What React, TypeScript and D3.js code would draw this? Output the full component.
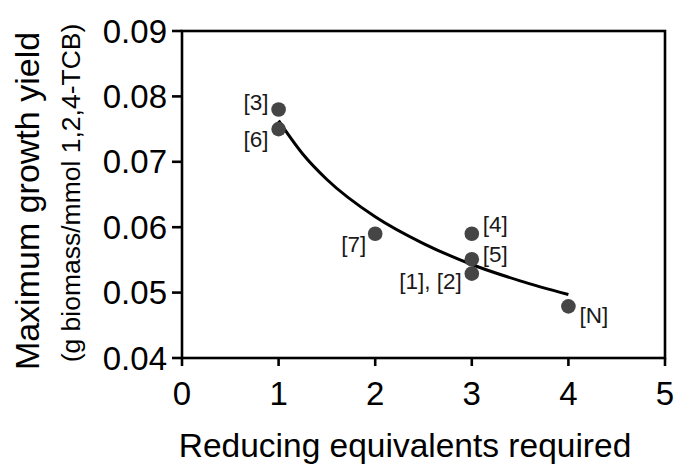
import React from "react";
import * as d3 from "d3";

const xTicks = [0, 1, 2, 3, 4, 5];
const yTicks = [0.04, 0.05, 0.06, 0.07, 0.08, 0.09];
const yTickLabels = ["0.04", "0.05", "0.06", "0.07", "0.08", "0.09"];

const pointLabels = ["[3]", "[6]", "[7]", "[4]", "[5]", "[1], [2]", "[N]"];
const pointX = [1, 1, 2, 3, 3, 3, 4];
const pointY = [0.078, 0.075, 0.059, 0.059, 0.0551, 0.0529, 0.0479];

const fitX = [1, 1.25, 1.5, 2, 2.5, 3, 3.5, 4];
const fitY = [0.0763, 0.0712, 0.0673, 0.0616, 0.0575, 0.0543, 0.0518, 0.0497];

const xTitle = "Reducing equivalents required";
const yTitle1 = "Maximum growth yield";
const yTitle2 = "(g biomass/mmol 1,2,4-TCB)";

// label layout: dx, dy, anchor
const labelLayout: [number, number, string][] = [
  [-10, 1, "end"],
  [-10, 18, "end"],
  [-9, 18, "end"],
  [11, -2, "start"],
  [11, 3, "start"],
  [-10, 15, "end"],
  [11, 17, "start"],
];

const W = 685;
const H = 472;
const left = 182;
const right = 665;
const top = 31;
const bottom = 358;

export default function App() {
  const x = d3.scaleLinear().domain([0, 5]).range([left, right]);
  const y = d3.scaleLinear().domain([0.04, 0.09]).range([bottom, top]);
  const font = "'Liberation Sans', Arial, Helvetica, sans-serif";

  const line = d3
    .line<number>()
    .x((_, i) => x(fitX[i]))
    .y((d) => y(d))
    .curve(d3.curveMonotoneX);

  return (
    <div style={{ position: "absolute", left: 0, top: 0 }}>
      <svg width={W} height={H} style={{ display: "block", background: "#fff" }} fontFamily={font}>
        <rect x={left} y={top} width={right - left} height={bottom - top} fill="none" stroke="#000" strokeWidth={2.6} />
        {yTicks.map((t, i) => (
          <g key={"y" + i}>
            <line x1={left - 10} x2={left} y1={y(t)} y2={y(t)} stroke="#000" strokeWidth={2.6} />
            <text x={left - 15} y={y(t)} dy="0.35em" textAnchor="end" fontSize={33} fill="#000">
              {yTickLabels[i]}
            </text>
          </g>
        ))}
        {xTicks.map((t, i) => (
          <g key={"x" + i}>
            <line x1={x(t)} x2={x(t)} y1={bottom} y2={bottom + 8} stroke="#000" strokeWidth={2.6} />
            <text x={x(t)} y={405} textAnchor="middle" fontSize={33} fill="#000">
              {String(t)}
            </text>
          </g>
        ))}
        <path d={line(fitY) || ""} fill="none" stroke="#000" strokeWidth={3} />
        {pointX.map((px, i) => (
          <circle key={"p" + i} cx={x(px)} cy={y(pointY[i])} r={7.3} fill="#454545" />
        ))}
        {pointLabels.map((lab, i) => (
          <text
            key={"l" + i}
            x={x(pointX[i]) + labelLayout[i][0]}
            y={y(pointY[i]) + labelLayout[i][1]}
            textAnchor={labelLayout[i][2] as any}
            fontSize={22.5}
            fill="#1a1a1a"
          >
            {lab}
          </text>
        ))}
        <text x={405} y={457} textAnchor="middle" fontSize={33.5} fill="#000">
          {xTitle}
        </text>
        <text transform="translate(39,201) rotate(-90)" textAnchor="middle" fontSize={34} fill="#000">
          {yTitle1}
        </text>
        <text transform="translate(80,193) rotate(-90)" textAnchor="middle" fontSize={26.5} fill="#000">
          {yTitle2}
        </text>
      </svg>
    </div>
  );
}
